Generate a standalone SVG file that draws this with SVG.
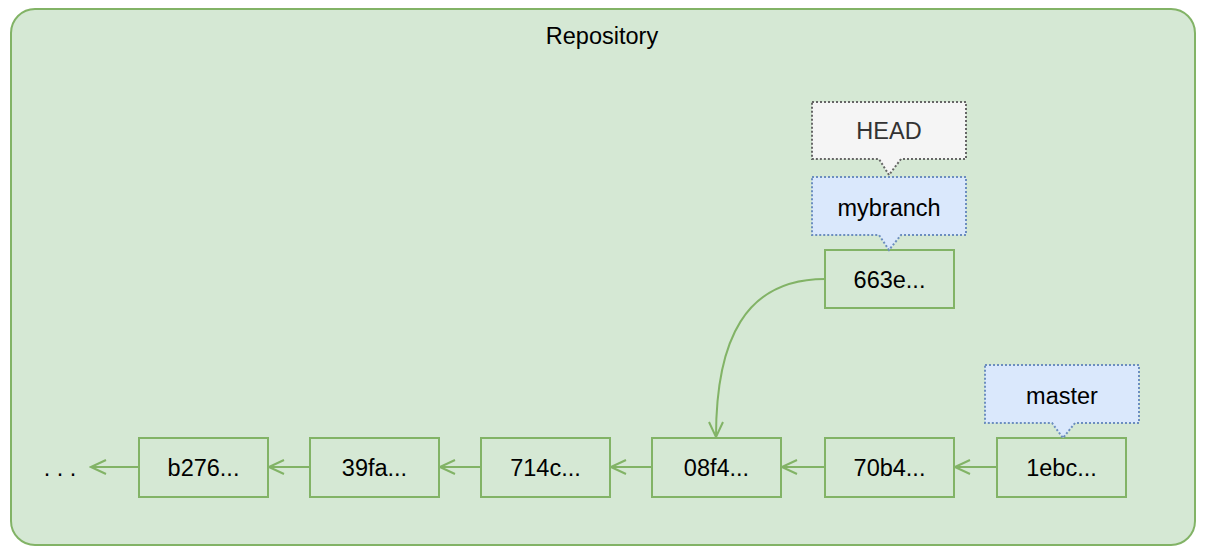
<svg xmlns="http://www.w3.org/2000/svg" width="1206" height="558" viewBox="0 0 1206 558">
<defs>
<style>
text{font-family:"Liberation Sans",Arial,sans-serif;font-size:23.5px;text-anchor:middle;dominant-baseline:central;fill:#000}
.commit rect{fill:#d5e8d4;stroke:#82b366;stroke-width:2}
.conn{fill:none;stroke:#82b366;stroke-width:2;marker-end:url(#open)}
.ref{fill:#dae8fc;stroke:#6c8ebf;stroke-width:2;stroke-dasharray:2 2}
.head{fill:#f5f5f5;stroke:#666;stroke-width:2;stroke-dasharray:2 2}
</style>
<marker id="open" viewBox="0 0 18 18" refX="16" refY="9" markerWidth="18" markerHeight="18" markerUnits="userSpaceOnUse" orient="auto">
<path d="M1,2 L16,9 L1,16" fill="none" stroke="#82b366" stroke-width="2"/>
</marker>
</defs>
<g id="repository">
<rect x="11" y="9" width="1184" height="536" rx="24" fill="#d5e8d4" stroke="#82b366" stroke-width="2"/>
<text x="602" y="36">Repository</text>
</g>
<g id="connectors">
<path class="conn" d="M139,467 H91"/>
<path class="conn" d="M310,467 H269"/>
<path class="conn" d="M481,467 H440"/>
<path class="conn" d="M652,467 H611"/>
<path class="conn" d="M825,467 H782"/>
<path class="conn" d="M997,467 H955"/>
<path class="conn" d="M825,279 C745,279 716,340 716,437"/>
</g>
<g id="dots"><text x="60" y="468">. . .</text></g>
<g id="b276" class="commit"><rect x="139" y="438" width="129" height="59"/><text x="203.5" y="468">b276...</text></g>
<g id="c39fa" class="commit"><rect x="310" y="438" width="129" height="59"/><text x="374.5" y="468">39fa...</text></g>
<g id="c714c" class="commit"><rect x="481" y="438" width="129" height="59"/><text x="545.5" y="468">714c...</text></g>
<g id="c08f4" class="commit"><rect x="652" y="438" width="129" height="59"/><text x="716.5" y="468">08f4...</text></g>
<g id="c70b4" class="commit"><rect x="825" y="438" width="129" height="59"/><text x="889.5" y="468">70b4...</text></g>
<g id="c1ebc" class="commit"><rect x="997" y="438" width="129" height="59"/><text x="1061.5" y="468">1ebc...</text></g>
<g id="c663e" class="commit"><rect x="825" y="250" width="129" height="58"/><text x="889.5" y="280">663e...</text></g>
<g id="head">
<path class="head" d="M812,102 H966 V159 H901 L889,175 L879,159 H812 Z"/>
<text x="889" y="131" style="fill:#333">HEAD</text>
</g>
<g id="mybranch">
<path class="ref" d="M812,177 H966 V235 H901 L889,250 L879,235 H812 Z"/>
<text x="889" y="208">mybranch</text>
</g>
<g id="master">
<path class="ref" d="M985,365 H1139 V423 H1075 L1063,438 L1052,423 H985 Z"/>
<text x="1062" y="396">master</text>
</g>
</svg>
